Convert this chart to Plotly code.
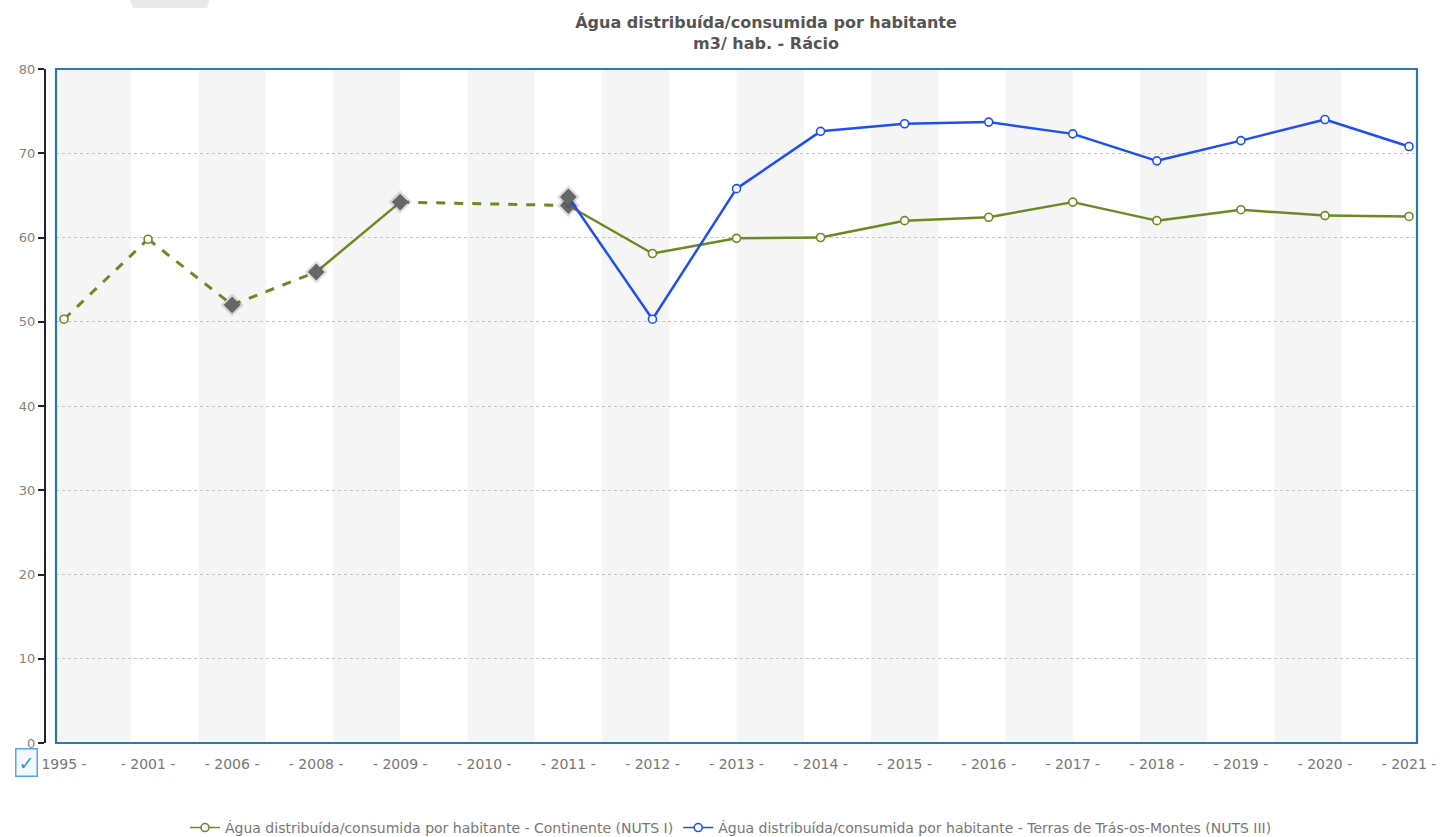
import plotly.graph_objects as go

# ---------------- data ----------------
years = ["1995", "2001", "2006", "2008", "2009", "2010", "2011", "2012", "2013",
         "2014", "2015", "2016", "2017", "2018", "2019", "2020", "2021"]
continente = [50.3, 59.8, 52.0, 55.9, 64.2, None, 63.8, 58.1, 59.9,
              60.0, 62.0, 62.4, 64.2, 62.0, 63.3, 62.6, 62.5]
continente_flag = [False, False, True, True, True, False, True, False, False,
                   False, False, False, False, False, False, False, False]
terras = [None, None, None, None, None, None, 64.8, 50.3, 65.8,
          72.6, 73.5, 73.7, 72.3, 69.1, 71.5, 74.0, 70.8]
terras_flag = [False, False, False, False, False, False, True, False, False,
               False, False, False, False, False, False, False, False]
tick_labels = ["1995 -"] + ["- %s -" % y for y in years[1:]]
series_names = [
    "Água distribuída/consumida por habitante - Continente (NUTS I)",
    "Água distribuída/consumida por habitante - Terras de Trás-os-Montes (NUTS III)",
]
title_text = "<b>Água distribuída/consumida por habitante</b><br><b>m3/ hab. - Rácio</b>"

GREEN = "#6b8a22"
BLUE = "#1f4ff0"
FONT = "DejaVu Sans"

xi = list(range(len(years)))


def segments(vals):
    """Split consecutive valid points into solid (1-year step) and dashed (gap) segments."""
    pts = [(i, v) for i, v in enumerate(vals) if v is not None]
    sx, sy, dx, dy = [], [], [], []
    for (i0, v0), (i1, v1) in zip(pts[:-1], pts[1:]):
        gap = int(years[i1]) - int(years[i0])
        if gap > 1:
            dx += [i0, i1, None]
            dy += [v0, v1, None]
        else:
            sx += [i0, i1, None]
            sy += [v0, v1, None]
    return sx, sy, dx, dy


fig = go.Figure()


def add_series(vals, flags, color, name):
    sx, sy, dx, dy = segments(vals)
    fig.add_trace(go.Scatter(x=sx, y=sy, mode="lines", line=dict(color=color, width=2.5),
                             showlegend=False, hoverinfo="skip"))
    fig.add_trace(go.Scatter(x=dx, y=dy, mode="lines",
                             line=dict(color=color, width=3, dash="dash"),
                             showlegend=False, hoverinfo="skip"))
    cx = [i for i in xi if vals[i] is not None and not flags[i]]
    cy = [vals[i] for i in cx]
    fig.add_trace(go.Scatter(x=cx, y=cy, mode="markers",
                             marker=dict(symbol="circle", size=8, color="white",
                                         line=dict(color=color, width=1.6)),
                             showlegend=False))
    fx = [i for i in xi if vals[i] is not None and flags[i]]
    fy = [vals[i] for i in fx]
    fig.add_trace(go.Scatter(x=fx, y=fy, mode="markers",
                             marker=dict(symbol="diamond", size=18, color="rgba(0,0,0,0.12)",
                                         line=dict(width=0)),
                             showlegend=False, hoverinfo="skip"))
    fig.add_trace(go.Scatter(x=fx, y=fy, mode="markers",
                             marker=dict(symbol="diamond", size=13, color="#666666",
                                         line=dict(width=0)),
                             showlegend=False))
    # legend entry
    fig.add_trace(go.Scatter(x=[None], y=[None], mode="lines+markers", name=name,
                             line=dict(color=color, width=1.5),
                             marker=dict(symbol="circle", size=8, color="white",
                                         line=dict(color=color, width=1.6))))


add_series(continente, continente_flag, GREEN, series_names[0])
add_series(terras, terras_flag, BLUE, series_names[1])

# alternating background bands
shapes = []
band_starts = [-0.2] + [1.6 * k for k in range(1, 10)]
for b in band_starts:
    x0 = b
    x1 = 0.8 if b < 0 else b + 0.8
    shapes.append(dict(type="rect", xref="x", yref="y domain", x0=x0, x1=x1, y0=0, y1=1,
                       fillcolor="#f5f5f5", line=dict(width=0), layer="below"))
# plot frame
shapes.append(dict(type="rect", xref="x domain", yref="y domain", x0=0, x1=1, y0=0, y1=1,
                   line=dict(color="#2e78b0", width=2.2), layer="above"))
# small grey tab at the top-left edge of the page
shapes.append(dict(type="path", xref="paper", yref="paper",
                   path="M 0.0620,1.1024 L 0.1199,1.1024 L 0.1181,1.0905 L 0.0641,1.0905 Z",
                   fillcolor="#e9e9e9", line=dict(width=0)))

fig.update_layout(
    width=1440, height=837,
    paper_bgcolor="white", plot_bgcolor="white",
    margin=dict(l=45, r=23, t=69, b=94, autoexpand=False),
    font=dict(family=FONT, color="#777777", size=12),
    title=dict(text=title_text, x=766 / 1440, xref="container", xanchor="center",
               y=1 - 28 / 837, yref="container", yanchor="middle",
               font=dict(family=FONT, size=16, color="#555555")),
    shapes=shapes,
    showlegend=True,
    legend=dict(orientation="h", x=0.5, xanchor="center", y=-0.126, yanchor="middle",
                font=dict(family=FONT, size=14, color="#777777"),
                itemwidth=30, tracegroupgap=0),
    xaxis=dict(domain=[11 / 1372, 1], range=[-0.095, 16.095],
               tickmode="array", tickvals=xi, ticktext=tick_labels,
               showgrid=False, zeroline=False, showline=False,
               ticks="outside", ticklen=8, tickcolor="rgba(0,0,0,0)",
               tickfont=dict(family=FONT, size=14, color="#777777"), fixedrange=True,
               automargin=False),
    yaxis=dict(range=[0, 80], dtick=10, anchor="free", position=0,
               showline=True, linecolor="#222222", linewidth=2,
               ticks="outside", ticklen=6, tickwidth=2, tickcolor="#222222",
               showgrid=True, gridcolor="#c4c4c4", griddash="dot", gridwidth=1,
               zeroline=False, automargin=False,
               tickfont=dict(family=FONT, size=13, color="#8a7f72"), fixedrange=True),
    annotations=[dict(text="✓", xref="paper", yref="paper",
                      x=(26 - 45) / 1372, y=(743 - 762) / 674,
                      xanchor="center", yanchor="middle", showarrow=False,
                      font=dict(size=19, color="#3b8fe8"),
                      bordercolor="#5aa2ea", borderwidth=1.5, borderpad=2,
                      bgcolor="#f2f8ff")],
)

fig.write_html("out.html", config={"displayModeBar": False},
               post_script="document.body.style.margin='0';")
